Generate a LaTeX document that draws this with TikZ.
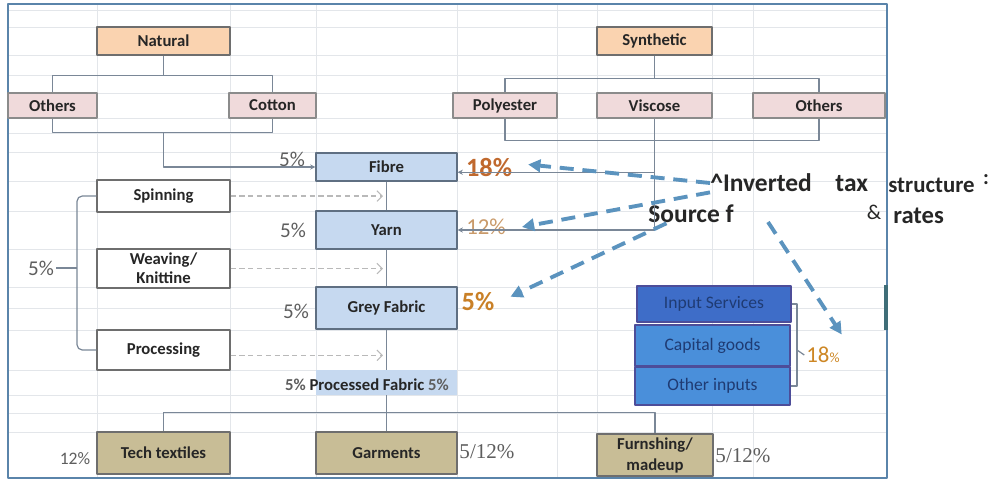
\documentclass[tikz,border=0pt]{standalone}
\usepackage{fontspec}
\setmainfont{Carlito}
\newfontfamily\rateserif{Liberation Serif}
\usetikzlibrary{arrows.meta}

\definecolor{gridline}{HTML}{E3E6EA}
\definecolor{framecol}{HTML}{5A84AA}
\definecolor{framedark}{HTML}{3F6E78}
\definecolor{boxline}{HTML}{6E6E6E}
\definecolor{natfill}{HTML}{FAD3B0}
\definecolor{kindfill}{HTML}{F0DADB}
\definecolor{stagefill}{HTML}{C6D9F0}
\definecolor{stageline}{HTML}{5F6F82}
\definecolor{endfill}{HTML}{C8BD96}
\definecolor{svcfill}{HTML}{3E6DC8}
\definecolor{capfill}{HTML}{4A8FDA}
\definecolor{svctext}{HTML}{1F3B73}
\definecolor{linkgray}{HTML}{7A8797}
\definecolor{pctgray}{HTML}{5E5E5E}
\definecolor{rateorange}{HTML}{C0692E}
\definecolor{lightorange}{HTML}{C99A6A}
\definecolor{taxblue}{HTML}{5B93BE}

\tikzset{
  boxsz/.style 2 args={minimum width=#1*\px, minimum height=#2*\px, inner sep=0pt},
  lbl/.style={font=\bfseries\fontsize{9.5}{11}\selectfont, text=black!85},
  srcbox/.style={lbl, draw=boxline, fill=natfill, line width=0.6pt},
  kindbox/.style={lbl, draw=boxline!80, fill=kindfill, line width=0.6pt},
  stagebox/.style={lbl, draw=stageline, fill=stagefill, line width=0.7pt},
  procbox/.style={lbl, draw=boxline, fill=white, line width=0.7pt},
  endbox/.style={lbl, draw=boxline, fill=endfill, line width=0.7pt},
  inbox/.style={draw=boxline!70!blue, line width=0.6pt, text=svctext,
    font=\fontsize{10}{12}\selectfont},
  pct/.style={text=pctgray, font=\fontsize{12}{14}\selectfont, inner sep=1pt},
  link/.style={draw=linkgray, line width=0.7pt},
  feed/.style={link, -{Stealth[length=3pt,width=3pt]}},
  flowdots/.style={draw=gray!55, densely dashed, line width=0.6pt,
    -{Straight Barb[length=3pt,width=6pt]}, shorten >=2pt},
  taxline/.style={draw=taxblue, line width=2.2pt, dash pattern=on 8pt off 5pt,
    -{Triangle[length=7pt,width=7pt]}},
  bigtxt/.style={font=\bfseries\fontsize{14.5}{17}\selectfont, text=black!85, inner sep=0pt}
}

\begin{document}
\begin{tikzpicture}
% one unit = one pixel of the sheet
\def\px{0.02cm}
\begin{scope}[x=\px, y=-\px, line join=round]
  \useasboundingbox (0,0) rectangle (1000,481);
  % Sheet grid
  \begin{scope}[draw=gridline, line width=0.4pt]
    \foreach \gx in {97,230,316,457,557,597,712,753}
      \draw (\gx,4) -- (\gx,478);
    \foreach \gy in {10,27,55,75,93,118,133,152,181,211,249,287,308,330,370,395,413,432}
      \draw (8,\gy) -- (887,\gy);
  \end{scope}
  % Frame
  \draw[framecol, line width=1pt] (8,4) rectangle (887,478);
  \draw[framedark, line width=2.2pt] (886,285) -- (886,330);

  % Fibre sources
  \node[srcbox, boxsz={133}{28}] (natural) at (163.5,41) {Natural};
  \node[srcbox, boxsz={115}{28}] (synthetic) at (654.5,41) {Synthetic};
  \node[kindbox, boxsz={89}{25}] (othersN) at (52.5,105.5) {Others};
  \node[kindbox, boxsz={87}{25}] (cotton) at (272.5,105.5) {Cotton};
  \node[kindbox, boxsz={104}{25}] (polyester) at (505,105.5) {Polyester};
  \node[kindbox, boxsz={115}{25}] (viscose) at (654.5,105.5) {Viscose};
  \node[kindbox, boxsz={132}{25}] (othersS) at (819,105.5) {Others};

  % Value chain
  \node[stagebox, boxsz={141}{28}] (fibre) at (386.5,167) {Fibre};
  \node[stagebox, boxsz={141}{38}] (yarn) at (386.5,230) {Yarn};
  \node[stagebox, boxsz={141}{42}] (grey) at (386.5,308) {Grey Fabric};
  \node[fill=stagefill, boxsz={141}{25}] (procfab) at (386.5,382.5) {};
  \node[lbl] (pftxt) at (367,385) {\textcolor{pctgray}{5\%} Processed Fabric \textcolor{pctgray}{5\%}};

  % Processes
  \node[procbox, boxsz={133}{32}] (spinning) at (163.5,196) {Spinning};
  \node[procbox, boxsz={133}{39}, align=center] (weaving) at (163.5,268.5)
    {Weaving/\\[0pt]Knittine};
  \node[procbox, boxsz={133}{40}] (processing) at (163.5,350) {Processing};

  % End products
  \node[endbox, boxsz={133}{42}] (tech) at (163.5,453) {Tech textiles};
  \node[endbox, boxsz={141}{42}] (garments) at (386.5,453) {Garments};
  \node[endbox, boxsz={116}{42}, align=center] (furnishing) at (655,455)
    {Furnshing/\\[1pt]madeup};

  % Inputs
  \node[inbox, fill=svcfill, boxsz={154}{36}] (inputsvc) at (714,304) {Input Services};
  \node[inbox, fill=capfill, boxsz={155}{41}] (capital) at (712.5,345.5) {Capital goods};
  \node[inbox, fill=capfill, boxsz={155}{38}] (otherin) at (712.5,386) {Other inputs};

  % Rates
  \node[pct] (nat5) at (292,159) {5\%};
  \node[pct] (yarn5) at (293,230) {5\%};
  \node[pct] (grey5) at (296,311) {5\%};
  \node[pct] (lft5) at (41,268) {5\%};
  \node[pct, font=\fontsize{10}{12}\selectfont] (tech12) at (75,459) {12\%};
  \node[pct, font=\rateserif\fontsize{12}{14}\selectfont] (garm512) at (487,452) {5/12\%};
  \node[pct, font=\rateserif\fontsize{12}{14}\selectfont] (furn512) at (743,456) {5/12\%};
  \node[text=rateorange, font=\bfseries\fontsize{15}{17}\selectfont, inner sep=1pt] (f18) at (489,168) {18\%};
  \node[text=lightorange, font=\fontsize{13}{15}\selectfont, inner sep=1pt] (y12) at (486,227) {12\%};
  \node[text=rateorange!85!yellow, font=\bfseries\fontsize{15}{17}\selectfont, inner sep=1pt] (g5) at (478,302) {5\%};
  \node[text=rateorange!80!yellow, font=\fontsize{13}{15}\selectfont, inner sep=1pt] (r18) at (823,355) {18{\footnotesize\%}};

  % Notes
  \node[bigtxt, anchor=west] (inv) at (710,183) {\textasciicircum Inverted\hspace{0.7em} tax};
  \node[bigtxt, font=\bfseries\fontsize{13}{15}\selectfont, anchor=west] (strc) at (888,185) {structure};
  \node[bigtxt, font=\bfseries\fontsize{12}{14}\selectfont] (colon) at (986,180) {:};
  \node[bigtxt, anchor=west] (srcf) at (648,214) {Source f};
  \node[bigtxt, font=\fontsize{12}{14}\selectfont] (amp) at (874,212) {\&};
  \node[bigtxt, font=\bfseries\fontsize{14}{16}\selectfont, anchor=west] (rates) at (893,216) {rates};
  \coordinate (invfoot) at (768,222);

  % Source trees
  \draw[link] (natural.south) -- ++(0,20) coordinate (nbus);
  \draw[link] (othersN.north) |- (nbus) -| (cotton.north);
  \draw[link] (othersN.south) -- ++(0,14) coordinate (nb1) -| (cotton.south);
  \draw[feed] (nb1 -| natural.south) |- (fibre.west);
  \draw[link] (synthetic.south) -- ++(0,23) coordinate (sbus);
  \draw[link] (polyester.north) |- (sbus) -| (othersS.north);
  \draw[link] (polyester.south) -- ++(0,22) -| (othersS.south);
  \draw[feed] (viscose.south) |- ([yshift=-3pt]fibre.east);
  \draw[feed] (viscose.south) |- (yarn.east);

  % Chain links
  \draw[link] (fibre.south) -- (yarn.north);
  \draw[link] (yarn.south) -- (grey.north);
  \draw[link] (grey.south) -- (procfab.north);
  \draw[link] (procfab.south) -- (garments.north);
  \draw[link] (tech.north) -- ++(0,-19) -| (furnishing.north);

  % Process arrows
  \draw[flowdots] (spinning.east) -- (spinning.east -| fibre.south);
  \draw[flowdots] (weaving.east) -- (weaving.east -| yarn.south);
  \path ([yshift=-3pt]processing.east) coordinate (pe);
  \draw[flowdots] (pe) -- (pe -| grey.south);

  % Brackets
  \coordinate (brk) at (77,268);
  \draw[link, rounded corners=3pt] (spinning.west) -| (brk) |- (processing.west);
  \draw[link] (brk) -- (lft5.east);
  \coordinate (rbrk) at (797,350);
  \draw[link] (inputsvc.east) -| (rbrk) |- (otherin.east);
  \draw[link] (rbrk) -- (r18.west);

  % Inverted tax arrows
  \draw[taxline] (inv.west) -- ([xshift=8pt,yshift=2pt]f18.east);
  \draw[taxline] (inv.south west) -- ([xshift=8pt]y12.east);
  \draw[taxline] ([xshift=-14pt]srcf.south) -- ([xshift=8pt,yshift=3pt]g5.east);
  \draw[taxline] (invfoot) -- ([yshift=6pt]r18.north east);
\end{scope}
\end{tikzpicture}
\end{document}
